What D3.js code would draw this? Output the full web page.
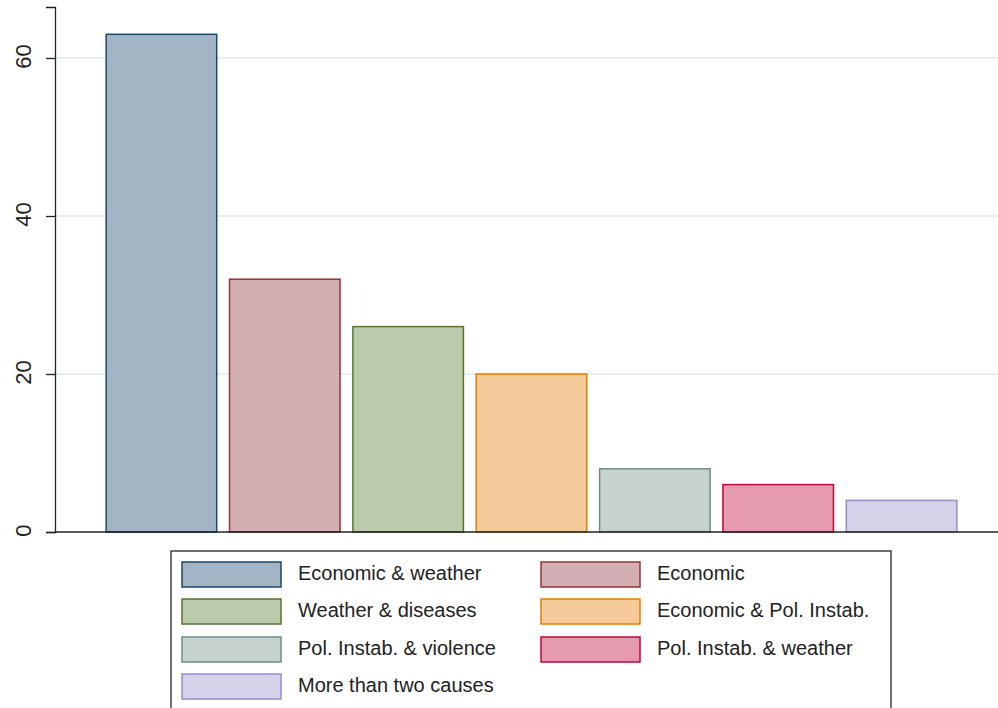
<!DOCTYPE html>
<html><head><meta charset="utf-8">
<script src="https://cdn.jsdelivr.net/npm/d3@7"></script>
<style>html,body{margin:0;padding:0;background:#fff;} svg{display:block;font-family:"Liberation Sans",Arial,sans-serif;}</style>
</head><body>
<svg id="chart" width="998" height="708"></svg>
<script>
const categories = ["Economic & weather","Economic","Weather & diseases","Economic & Pol. Instab.","Pol. Instab. & violence","Pol. Instab. & weather","More than two causes"];
const values = [63, 32, 26, 20, 8, 6, 4];
const yTicks = [0, 20, 40, 60];
const fills = ["#a3b5c5","#d4afb1","#bccaac","#f4ca99","#c5d2cd","#e59aae","#d5d1e8"];
const strokes = ["#1a476f","#90353b","#55752f","#e37e00","#6e8e84","#c10534","#938dd2"];

const svg = d3.select("#chart");
const x0 = 55, yBase = 532, yTop = 7;
const y = d3.scaleLinear().domain([0, (yBase - yTop) / 7.9]).range([yBase, yTop]);
const x = d3.scaleBand().domain(categories).range([100, 963]).paddingInner(0.104).paddingOuter(0.05);

// gridlines
svg.append("g").selectAll("line").data(yTicks.filter(d => d > 0)).join("line")
  .attr("x1", x0).attr("x2", 998)
  .attr("y1", d => y(d)).attr("y2", d => y(d))
  .attr("stroke", "#e6f0f1").attr("stroke-width", 2);

// bars
svg.append("g").selectAll("rect").data(values).join("rect")
  .attr("x", (d, i) => x(categories[i]))
  .attr("y", d => y(d))
  .attr("width", x.bandwidth())
  .attr("height", d => y(0) - y(d))
  .attr("fill", (d, i) => fills[i])
  .attr("stroke", (d, i) => strokes[i])
  .attr("stroke-width", 1.5);

// y axis
const yAxis = d3.axisLeft(y).tickValues(yTicks).tickSize(9).tickPadding(10).tickFormat(d3.format("d"));
const ga = svg.append("g").attr("transform", `translate(${x0},0)`).call(yAxis);
ga.attr("font-size", null).attr("font-family", null);
ga.select(".domain").attr("stroke", "#222").attr("stroke-width", 1.3);
ga.selectAll(".tick line").attr("stroke", "#222").attr("stroke-width", 1.3);
ga.selectAll(".tick text")
  .style("font-size", "22px").style("font-family", "'Liberation Sans', Arial, sans-serif")
  .attr("fill", "#222")
  .attr("text-anchor", "middle")
  .attr("dy", null).attr("x", null)
  .attr("transform", "translate(-30,-2) rotate(-90)")
  .attr("dominant-baseline", "middle");

// baseline
svg.append("line").attr("x1", x0).attr("x2", 998).attr("y1", yBase).attr("y2", yBase)
  .attr("stroke", "#222").attr("stroke-width", 1.3);

// legend
const lg = svg.append("g");
lg.append("rect").attr("x", 171).attr("y", 551).attr("width", 720).attr("height", 170)
  .attr("fill", "#fff").attr("stroke", "#222").attr("stroke-width", 1.3);
const colX = [182, 541], rowY = [562, 599, 637, 674];
categories.forEach((c, i) => {
  const cx = colX[i % 2], ry = rowY[Math.floor(i / 2)];
  lg.append("rect").attr("x", cx).attr("y", ry).attr("width", 99).attr("height", 25)
    .attr("fill", fills[i]).attr("stroke", strokes[i]).attr("stroke-width", 1.5);
  lg.append("text").attr("x", cx + 116).attr("y", ry + 13).attr("dominant-baseline", "middle")
    .style("font-size", "20px").attr("fill", "#222").text(c);
});
</script>
</body></html>
